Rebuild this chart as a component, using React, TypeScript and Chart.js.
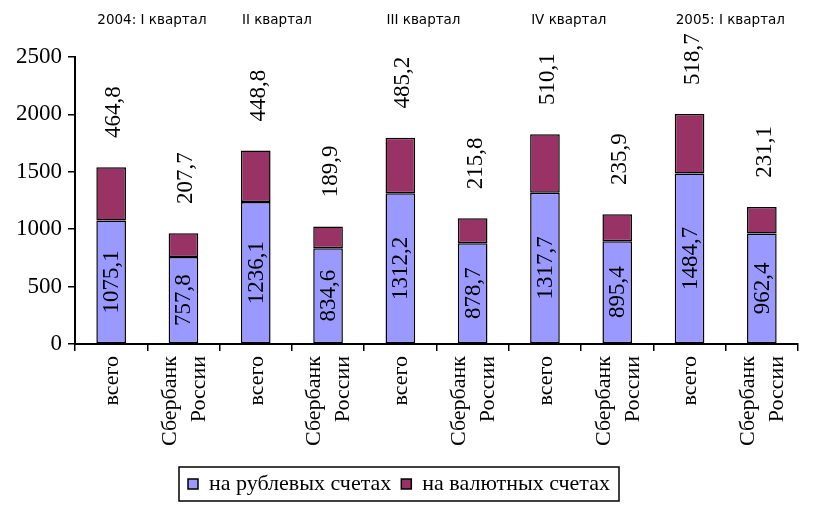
import React, { useEffect, useRef } from 'react';
import { Chart, registerables } from 'chart.js';

Chart.register(...registerables);

// categories: each quarter has "всего" and "Сбербанк России"
const categories: string[][] = [
  ['всего'], ['Сбербанк', 'России'],
  ['всего'], ['Сбербанк', 'России'],
  ['всего'], ['Сбербанк', 'России'],
  ['всего'], ['Сбербанк', 'России'],
  ['всего'], ['Сбербанк', 'России'],
];
const quarterLabels = ['2004: I квартал', 'II квартал', 'III квартал', 'IV квартал', '2005: I квартал'];

const rubleValues = [1075.1, 757.8, 1236.1, 834.6, 1312.2, 878.7, 1317.7, 895.4, 1484.7, 962.4];
const currencyValues = [464.8, 207.7, 448.8, 189.9, 485.2, 215.8, 510.1, 235.9, 518.7, 231.1];

const yTicks = [0, 500, 1000, 1500, 2000, 2500];

const BLUE = '#9999FF';
const CRIMSON = '#993366';
const SERIF = '"Liberation Serif", "Times New Roman", serif';

const fmt = (v: number) => v.toFixed(1).replace('.', ',');

const labelsPlugin = {
  id: 'customLabels',
  afterDatasetsDraw(chart: Chart) {
    const ctx = chart.ctx;
    const m0 = chart.getDatasetMeta(0);
    const m1 = chart.getDatasetMeta(1);
    ctx.save();
    ctx.fillStyle = '#000';
    ctx.font = `23px ${SERIF}`;
    ctx.textAlign = 'center';
    ctx.textBaseline = 'middle';
    m0.data.forEach((el: any, i: number) => {
      const yMid = (el.y + el.base) / 2;
      ctx.save();
      ctx.translate(el.x, yMid);
      ctx.rotate(-Math.PI / 2);
      ctx.fillText(fmt(rubleValues[i]), 0, 1);
      ctx.restore();
    });
    m1.data.forEach((el: any, i: number) => {
      ctx.save();
      ctx.translate(el.x + 2, el.y - 55);
      ctx.rotate(-Math.PI / 2);
      ctx.fillText(fmt(currencyValues[i]), 0, 1);
      ctx.restore();
    });
    // category labels under the axis, rotated, lines centred on the category
    const xs: any = chart.scales.x;
    ctx.font = `22px ${SERIF}`;
    ctx.textAlign = 'right';
    categories.forEach((lines, i) => {
      const cx = xs.getPixelForValue(i);
      const lh = 29;
      lines.forEach((line, j) => {
        const off = (j - (lines.length - 1) / 2) * lh;
        ctx.save();
        ctx.translate(cx + off, xs.top + 12);
        ctx.rotate(-Math.PI / 2);
        ctx.fillText(line, 0, 1);
        ctx.restore();
      });
    });
    // quarter captions, left-aligned on the "всего" bar
    ctx.font = '13.5px "DejaVu Sans", Verdana, sans-serif';
    ctx.textAlign = 'left';
    quarterLabels.forEach((q, k) => {
      const el: any = m0.data[k * 2];
      ctx.fillText(q, el.x - el.width / 2 + 1, 20);
    });
    ctx.restore();
  },
  afterDraw(chart: Chart) {
    const legend: any = chart.legend;
    if (!legend || !legend.legendHitBoxes || !legend.legendHitBoxes.length) return;
    const boxes = legend.legendHitBoxes;
    const left = Math.min(...boxes.map((b: any) => b.left));
    const right = Math.max(...boxes.map((b: any) => b.left + b.width));
    const top = Math.min(...boxes.map((b: any) => b.top));
    const bottom = Math.max(...boxes.map((b: any) => b.top + b.height));
    const ctx = chart.ctx;
    ctx.save();
    ctx.strokeStyle = '#000';
    ctx.lineWidth = 1.5;
    ctx.strokeRect(left - 9, top - 6, right - left + 18, bottom - top + 12);
    ctx.restore();
  },
};

const App: React.FC = () => {
  const canvasRef = useRef<HTMLCanvasElement>(null);

  useEffect(() => {
    if (!canvasRef.current) return;
    const chart = new Chart(canvasRef.current, {
      type: 'bar',
      data: {
        labels: categories.map(c => c.join(' ')),
        datasets: [
          {
            label: 'на рублевых счетах',
            data: rubleValues,
            backgroundColor: BLUE,
            borderColor: '#000',
            borderWidth: 1.5,
            borderSkipped: false,
            barPercentage: 0.82,
            categoryPercentage: 0.5,
          },
          {
            label: 'на валютных счетах',
            data: currencyValues,
            backgroundColor: CRIMSON,
            borderColor: '#000',
            borderWidth: 1.5,
            borderSkipped: false,
            barPercentage: 0.82,
            categoryPercentage: 0.5,
          },
        ],
      },
      options: {
        animation: false,
        responsive: true,
        maintainAspectRatio: false,
        layout: { padding: { top: 57, right: 27, left: 0, bottom: 9 } },
        plugins: {
          tooltip: { enabled: false },
          legend: {
            position: 'bottom',
            labels: {
              color: '#000',
              font: { family: SERIF, size: 22 },
              boxWidth: 10,
              boxHeight: 10,
              padding: 10,
            },
          },
        },
        scales: {
          x: {
            stacked: true,
            afterFit: (s: any) => { s.height = 119; },
            border: { color: '#000', width: 2 },
            grid: { display: true, drawOnChartArea: false, color: '#000', lineWidth: 1.5, tickLength: 7 },
            ticks: { display: false, autoSkip: false },
          },
          y: {
            stacked: true,
            min: 0,
            max: 2500,
            afterFit: (s: any) => { s.width = 75; },
            afterBuildTicks: (s: any) => { s.ticks = yTicks.map(v => ({ value: v })); },
            border: { color: '#000', width: 2 },
            grid: { display: true, drawOnChartArea: false, color: '#000', lineWidth: 1.5, tickLength: 7 },
            ticks: {
              color: '#000',
              font: { family: SERIF, size: 23 },
              padding: 6,
              callback: (v: any) => String(v),
            },
          },
        },
      },
      plugins: [labelsPlugin],
    });
    return () => chart.destroy();
  }, []);

  return (
    <div style={{ position: 'absolute', left: 0, top: 0, width: 825, height: 514, background: '#fff' }}>
      <canvas ref={canvasRef}></canvas>
    </div>
  );
};

export default App;
